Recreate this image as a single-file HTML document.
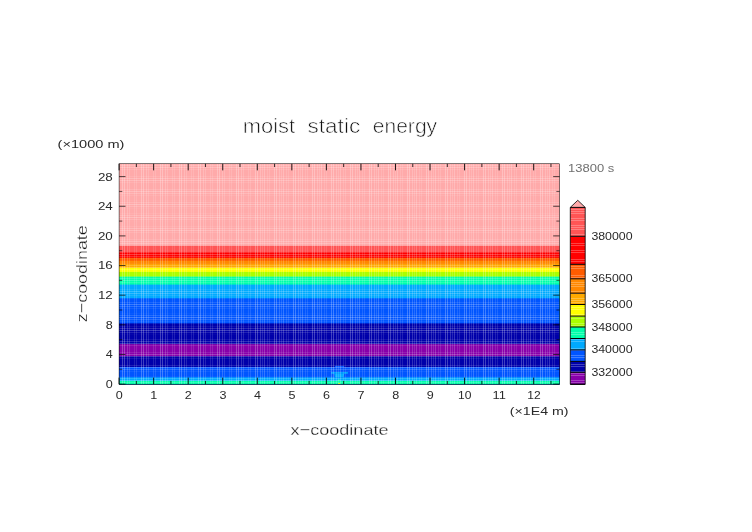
<!DOCTYPE html>
<html><head><meta charset="utf-8"><title>moist static energy</title>
<style>
html,body{margin:0;padding:0;background:#fff;}
body{width:752px;height:532px;overflow:hidden;}
svg{display:block;}
text{font-family:"Liberation Sans",sans-serif;}
</style></head><body>
<svg width="752" height="532" viewBox="0 0 752 532">
<rect width="752" height="532" fill="#fff"/>

<g><rect x="119.09" y="163.752" width="440.512" height="220.447" fill="#ffaaaa"/><rect x="119.09" y="245.8" width="440.512" height="138.4" fill="#ff5555"/><rect x="119.09" y="252.2" width="440.512" height="132" fill="#ff0000"/><rect x="119.09" y="257.8" width="440.512" height="126.4" fill="#ff5c00"/><rect x="119.09" y="260.8" width="440.512" height="123.4" fill="#ff8800"/><rect x="119.09" y="264.2" width="440.512" height="120" fill="#ffaa00"/><rect x="119.09" y="267.8" width="440.512" height="116.4" fill="#ffff00"/><rect x="119.09" y="271.9" width="440.512" height="112.3" fill="#aaff00"/><rect x="119.09" y="276.6" width="440.512" height="107.6" fill="#00ffaa"/><rect x="119.09" y="284.6" width="440.512" height="99.6" fill="#00aaff"/><rect x="119.09" y="298.3" width="440.512" height="85.9" fill="#0055ff"/><rect x="119.09" y="323.4" width="440.512" height="60.8" fill="#0000aa"/><rect x="119.09" y="344.1" width="440.512" height="40.1" fill="#8800aa"/><rect x="119.09" y="356.2" width="440.512" height="28" fill="#0000aa"/><rect x="119.09" y="367" width="440.512" height="17.2" fill="#0055ff"/><rect x="119.09" y="377.3" width="440.512" height="6.9" fill="#00aaff"/><rect x="119.09" y="380.9" width="440.512" height="3.3" fill="#00ffaa"/><rect x="334.9" y="365.9" width="9.3" height="1.2" fill="#0055ff"/><rect x="331.2" y="372.1" width="16.7" height="1.6" fill="#00aaff"/><polygon points="334.3,373.7 344.2,373.7 343.6,377.3 334.9,377.3" fill="#00aaff"/><polygon points="336.8,381.2 339,379.1 341.3,381.2" fill="#00ffaa"/><rect x="338.2" y="383.1" width="1.9" height="0.9" fill="#ffff00"/><g stroke="#fff" stroke-width="1" fill="none"><path stroke-opacity="0.12" d="M134.5 163.752V384.2M136.5 163.752V384.2M153.5 163.752V384.2M155.5 163.752V384.2M172.5 163.752V384.2M174.5 163.752V384.2M191.5 163.752V384.2M193.5 163.752V384.2M210.5 163.752V384.2M212.5 163.752V384.2M229.5 163.752V384.2M231.5 163.752V384.2M248.5 163.752V384.2M250.5 163.752V384.2M267.5 163.752V384.2M269.5 163.752V384.2M286.5 163.752V384.2M288.5 163.752V384.2M305.5 163.752V384.2M307.5 163.752V384.2M324.5 163.752V384.2M326.5 163.752V384.2M343.5 163.752V384.2M345.5 163.752V384.2M362.5 163.752V384.2M364.5 163.752V384.2M381.5 163.752V384.2M383.5 163.752V384.2M400.5 163.752V384.2M402.5 163.752V384.2M419.5 163.752V384.2M421.5 163.752V384.2M438.5 163.752V384.2M440.5 163.752V384.2M457.5 163.752V384.2M459.5 163.752V384.2M476.5 163.752V384.2M478.5 163.752V384.2M495.5 163.752V384.2M497.5 163.752V384.2M514.5 163.752V384.2M516.5 163.752V384.2M533.5 163.752V384.2M535.5 163.752V384.2M552.5 163.752V384.2M554.5 163.752V384.2"/><path stroke-opacity="0.14" d="M129.5 163.752V384.2M148.5 163.752V384.2M167.5 163.752V384.2M186.5 163.752V384.2M205.5 163.752V384.2M224.5 163.752V384.2M243.5 163.752V384.2M262.5 163.752V384.2M281.5 163.752V384.2M300.5 163.752V384.2M319.5 163.752V384.2M338.5 163.752V384.2M357.5 163.752V384.2M376.5 163.752V384.2M395.5 163.752V384.2M414.5 163.752V384.2M433.5 163.752V384.2M452.5 163.752V384.2M471.5 163.752V384.2M490.5 163.752V384.2M509.5 163.752V384.2M528.5 163.752V384.2M547.5 163.752V384.2"/><path stroke-opacity="0.18" d="M127.5 163.752V384.2M146.5 163.752V384.2M165.5 163.752V384.2M184.5 163.752V384.2M203.5 163.752V384.2M222.5 163.752V384.2M241.5 163.752V384.2M260.5 163.752V384.2M279.5 163.752V384.2M298.5 163.752V384.2M317.5 163.752V384.2M336.5 163.752V384.2M355.5 163.752V384.2M374.5 163.752V384.2M393.5 163.752V384.2M412.5 163.752V384.2M431.5 163.752V384.2M450.5 163.752V384.2M469.5 163.752V384.2M488.5 163.752V384.2M507.5 163.752V384.2M526.5 163.752V384.2M545.5 163.752V384.2"/><path stroke-opacity="0.2" d="M264.5 163.752V384.2M283.5 163.752V384.2M302.5 163.752V384.2M321.5 163.752V384.2M340.5 163.752V384.2M359.5 163.752V384.2M378.5 163.752V384.2M397.5 163.752V384.2M416.5 163.752V384.2M435.5 163.752V384.2M454.5 163.752V384.2M473.5 163.752V384.2M492.5 163.752V384.2M511.5 163.752V384.2M530.5 163.752V384.2M549.5 163.752V384.2"/><path stroke-opacity="0.25" d="M122.5 163.752V384.2M124.5 163.752V384.2M141.5 163.752V384.2M143.5 163.752V384.2M160.5 163.752V384.2M162.5 163.752V384.2M179.5 163.752V384.2M181.5 163.752V384.2M198.5 163.752V384.2M200.5 163.752V384.2M217.5 163.752V384.2M219.5 163.752V384.2M236.5 163.752V384.2M238.5 163.752V384.2M255.5 163.752V384.2M257.5 163.752V384.2M274.5 163.752V384.2M276.5 163.752V384.2M293.5 163.752V384.2M295.5 163.752V384.2M312.5 163.752V384.2M314.5 163.752V384.2M331.5 163.752V384.2M333.5 163.752V384.2M350.5 163.752V384.2M352.5 163.752V384.2M369.5 163.752V384.2M371.5 163.752V384.2M388.5 163.752V384.2M390.5 163.752V384.2M407.5 163.752V384.2M409.5 163.752V384.2M426.5 163.752V384.2M428.5 163.752V384.2M445.5 163.752V384.2M447.5 163.752V384.2M464.5 163.752V384.2M466.5 163.752V384.2M483.5 163.752V384.2M485.5 163.752V384.2M502.5 163.752V384.2M504.5 163.752V384.2M521.5 163.752V384.2M523.5 163.752V384.2M540.5 163.752V384.2M542.5 163.752V384.2"/><path stroke-opacity=".14" d="M119.09 382.5H559.602"/><path stroke-opacity=".25" d="M119.09 380.5H559.602"/><path stroke-opacity=".15" d="M119.09 378.5H559.602"/><path stroke-opacity=".04" d="M119.09 376.5H559.602"/><path stroke-opacity=".06" d="M119.09 371.5H559.602"/><path stroke-opacity=".16" d="M119.09 369.5H559.602"/><path stroke-opacity=".23" d="M119.09 367.5H559.602"/><path stroke-opacity=".12" d="M119.09 365.5H559.602"/><path stroke-opacity=".08" d="M119.09 358.5H559.602"/><path stroke-opacity=".19" d="M119.09 356.5H559.602"/><path stroke-opacity=".21" d="M119.09 354.5H559.602"/><path stroke-opacity=".10" d="M119.09 352.5H559.602"/><path stroke-opacity=".11" d="M119.09 345.5H559.602"/><path stroke-opacity=".21" d="M119.09 343.5H559.602"/><path stroke-opacity=".18" d="M119.09 341.5H559.602"/><path stroke-opacity=".08" d="M119.09 339.5H559.602"/><path stroke-opacity=".02" d="M119.09 334.5H559.602"/><path stroke-opacity=".13" d="M119.09 332.5H559.602"/><path stroke-opacity=".23" d="M119.09 330.5H559.602"/><path stroke-opacity=".16" d="M119.09 328.5H559.602"/><path stroke-opacity=".06" d="M119.09 326.5H559.602"/><path stroke-opacity=".05" d="M119.09 321.5H559.602"/><path stroke-opacity=".15" d="M119.09 319.5H559.602"/><path stroke-opacity=".24" d="M119.09 317.5H559.602"/><path stroke-opacity=".14" d="M119.09 315.5H559.602"/><path stroke-opacity=".03" d="M119.09 313.5H559.602"/><path stroke-opacity=".07" d="M119.09 308.5H559.602"/><path stroke-opacity=".17" d="M119.09 306.5H559.602"/><path stroke-opacity=".22" d="M119.09 304.5H559.602"/><path stroke-opacity=".11" d="M119.09 302.5H559.602"/><path stroke-opacity=".09" d="M119.09 295.5H559.602"/><path stroke-opacity=".20" d="M119.09 293.5H559.602"/><path stroke-opacity=".20" d="M119.09 291.5H559.602"/><path stroke-opacity=".09" d="M119.09 289.5H559.602"/><path stroke-opacity=".12" d="M119.09 282.5H559.602"/><path stroke-opacity=".22" d="M119.09 280.5H559.602"/><path stroke-opacity=".17" d="M119.09 278.5H559.602"/><path stroke-opacity=".07" d="M119.09 276.5H559.602"/><path stroke-opacity=".03" d="M119.09 271.5H559.602"/><path stroke-opacity=".14" d="M119.09 269.5H559.602"/><path stroke-opacity=".24" d="M119.09 267.5H559.602"/><path stroke-opacity=".15" d="M119.09 265.5H559.602"/><path stroke-opacity=".04" d="M119.09 263.5H559.602"/><path stroke-opacity=".06" d="M119.09 258.5H559.602"/><path stroke-opacity=".16" d="M119.09 256.5H559.602"/><path stroke-opacity=".23" d="M119.09 254.5H559.602"/><path stroke-opacity=".13" d="M119.09 252.5H559.602"/><path stroke-opacity=".02" d="M119.09 250.5H559.602"/><path stroke-opacity=".08" d="M119.09 245.5H559.602"/><path stroke-opacity=".19" d="M119.09 243.5H559.602"/><path stroke-opacity=".21" d="M119.09 241.5H559.602"/><path stroke-opacity=".10" d="M119.09 239.5H559.602"/><path stroke-opacity=".10" d="M119.09 232.5H559.602"/><path stroke-opacity=".21" d="M119.09 230.5H559.602"/><path stroke-opacity=".19" d="M119.09 228.5H559.602"/><path stroke-opacity=".08" d="M119.09 226.5H559.602"/><path stroke-opacity=".02" d="M119.09 221.5H559.602"/><path stroke-opacity=".13" d="M119.09 219.5H559.602"/><path stroke-opacity=".23" d="M119.09 217.5H559.602"/><path stroke-opacity=".16" d="M119.09 215.5H559.602"/><path stroke-opacity=".06" d="M119.09 213.5H559.602"/><path stroke-opacity=".04" d="M119.09 208.5H559.602"/><path stroke-opacity=".15" d="M119.09 206.5H559.602"/><path stroke-opacity=".24" d="M119.09 204.5H559.602"/><path stroke-opacity=".14" d="M119.09 202.5H559.602"/><path stroke-opacity=".03" d="M119.09 200.5H559.602"/><path stroke-opacity=".07" d="M119.09 195.5H559.602"/><path stroke-opacity=".17" d="M119.09 193.5H559.602"/><path stroke-opacity=".22" d="M119.09 191.5H559.602"/><path stroke-opacity=".12" d="M119.09 189.5H559.602"/><path stroke-opacity=".09" d="M119.09 182.5H559.602"/><path stroke-opacity=".20" d="M119.09 180.5H559.602"/><path stroke-opacity=".20" d="M119.09 178.5H559.602"/><path stroke-opacity=".09" d="M119.09 176.5H559.602"/><path stroke-opacity=".11" d="M119.09 169.5H559.602"/><path stroke-opacity=".22" d="M119.09 167.5H559.602"/><path stroke-opacity=".18" d="M119.09 165.5H559.602"/></g></g>

<rect x="119.09" y="163.752" width="440.512" height="220.447" fill="none" stroke="#000" stroke-width="0.5"/><path d="M119.09 384.2v-6.6M119.09 163.752v6.6M153.64 384.2v-6.6M153.64 163.752v6.6M188.19 384.2v-6.6M188.19 163.752v6.6M222.74 384.2v-6.6M222.74 163.752v6.6M257.29 384.2v-6.6M257.29 163.752v6.6M291.84 384.2v-6.6M291.84 163.752v6.6M326.39 384.2v-6.6M326.39 163.752v6.6M360.94 384.2v-6.6M360.94 163.752v6.6M395.49 384.2v-6.6M395.49 163.752v6.6M430.04 384.2v-6.6M430.04 163.752v6.6M464.59 384.2v-6.6M464.59 163.752v6.6M499.14 384.2v-6.6M499.14 163.752v6.6M533.69 384.2v-6.6M533.69 163.752v6.6" stroke="#000" stroke-width="0.9" fill="none"/><path d="M136.365 384.2v-3.3M136.365 163.752v3.3M170.915 384.2v-3.3M170.915 163.752v3.3M205.465 384.2v-3.3M205.465 163.752v3.3M240.015 384.2v-3.3M240.015 163.752v3.3M274.565 384.2v-3.3M274.565 163.752v3.3M309.115 384.2v-3.3M309.115 163.752v3.3M343.665 384.2v-3.3M343.665 163.752v3.3M378.215 384.2v-3.3M378.215 163.752v3.3M412.765 384.2v-3.3M412.765 163.752v3.3M447.315 384.2v-3.3M447.315 163.752v3.3M481.865 384.2v-3.3M481.865 163.752v3.3M516.415 384.2v-3.3M516.415 163.752v3.3M550.965 384.2v-3.3M550.965 163.752v3.3" stroke="#000" stroke-width="0.8" fill="none"/><path d="M119.09 384.1h6.4M559.602 384.1h-6.4M119.09 354.46h6.4M559.602 354.46h-6.4M119.09 324.82h6.4M559.602 324.82h-6.4M119.09 295.18h6.4M559.602 295.18h-6.4M119.09 265.54h6.4M559.602 265.54h-6.4M119.09 235.9h6.4M559.602 235.9h-6.4M119.09 206.26h6.4M559.602 206.26h-6.4M119.09 176.62h6.4M559.602 176.62h-6.4" stroke="#000" stroke-width="0.7" fill="none"/><path d="M119.09 369.28h3.2M559.602 369.28h-3.2M119.09 339.64h3.2M559.602 339.64h-3.2M119.09 310h3.2M559.602 310h-3.2M119.09 280.36h3.2M559.602 280.36h-3.2M119.09 250.72h3.2M559.602 250.72h-3.2M119.09 221.08h3.2M559.602 221.08h-3.2M119.09 191.44h3.2M559.602 191.44h-3.2" stroke="#000" stroke-width="0.6" fill="none"/>
<rect x="570.3" y="372.3" width="14.9" height="12" fill="#8800aa"/><rect x="570.3" y="361.4" width="14.9" height="10.9" fill="#0000aa"/><rect x="570.3" y="349.9" width="14.9" height="11.5" fill="#0055ff"/><rect x="570.3" y="338.5" width="14.9" height="11.4" fill="#00aaff"/><rect x="570.3" y="327" width="14.9" height="11.5" fill="#00ffaa"/><rect x="570.3" y="316.1" width="14.9" height="10.9" fill="#aaff00"/><rect x="570.3" y="304.5" width="14.9" height="11.6" fill="#ffff00"/><rect x="570.3" y="293.2" width="14.9" height="11.3" fill="#ffaa00"/><rect x="570.3" y="278.8" width="14.9" height="14.4" fill="#ff8800"/><rect x="570.3" y="264.3" width="14.9" height="14.5" fill="#ff5c00"/><rect x="570.3" y="236.3" width="14.9" height="28" fill="#ff0000"/><rect x="570.3" y="207.4" width="14.9" height="28.9" fill="#ff5555"/><path d="M570.3 209.5H585.2M570.3 211.5H585.2M570.3 213.5H585.2M570.3 218.5H585.2M570.3 220.5H585.2M570.3 225.5H585.2M570.3 227.5H585.2M570.3 229.5H585.2M570.3 234.5H585.2M570.3 236.5H585.2M570.3 243.5H585.2M570.3 245.5H585.2M570.3 250.5H585.2M570.3 252.5H585.2M570.3 259.5H585.2M570.3 261.5H585.2M570.3 266.5H585.2M570.3 268.5H585.2M570.3 275.5H585.2M570.3 277.5H585.2M570.3 282.5H585.2M570.3 284.5H585.2M570.3 286.5H585.2M570.3 291.5H585.2M570.3 293.5H585.2M570.3 298.5H585.2M570.3 300.5H585.2M570.3 302.5H585.2M570.3 307.5H585.2M570.3 309.5H585.2M570.3 314.5H585.2M570.3 316.5H585.2M570.3 318.5H585.2M570.3 323.5H585.2M570.3 325.5H585.2M570.3 332.5H585.2M570.3 334.5H585.2M570.3 339.5H585.2M570.3 341.5H585.2M570.3 348.5H585.2M570.3 350.5H585.2M570.3 355.5H585.2M570.3 357.5H585.2M570.3 364.5H585.2M570.3 366.5H585.2M570.3 371.5H585.2M570.3 373.5H585.2M570.3 375.5H585.2M570.3 380.5H585.2M570.3 382.5H585.2" stroke="#fff" stroke-opacity="0.25" stroke-width="1" fill="none"/><polygon points="570.3,207.4 577.75,200.3 585.2,207.4" fill="#ffaaaa"/><path d="M570.3 384.3H585.2M570.3 372.3H585.2M570.3 361.4H585.2M570.3 349.9H585.2M570.3 338.5H585.2M570.3 327H585.2M570.3 316.1H585.2M570.3 304.5H585.2M570.3 293.2H585.2M570.3 278.8H585.2M570.3 264.3H585.2M570.3 236.3H585.2M570.3 207.4H585.2" stroke="#000" stroke-width="1" fill="none"/><path d="M570.3 384.3V207.4L577.75 200.3L585.2 207.4V384.3Z" stroke="#000" stroke-width="0.8" fill="none"/>
<text y="133.1" font-size="19.3" fill="#111" stroke="#fff" stroke-width="0.6" paint-order="fill stroke" lengthAdjust="spacingAndGlyphs"><tspan x="242.7" textLength="52.5" lengthAdjust="spacingAndGlyphs">moist</tspan> <tspan x="307.5" textLength="52.7" lengthAdjust="spacingAndGlyphs">static</tspan> <tspan x="372.8" textLength="64.3" lengthAdjust="spacingAndGlyphs">energy</tspan></text><text x="57.6" y="148" font-size="11.4" textLength="66.8" lengthAdjust="spacingAndGlyphs" fill="#2a2a2a">(×1000 m)</text><text x="568" y="171.6" font-size="11.2" textLength="46.2" lengthAdjust="spacingAndGlyphs" fill="#707070">13800 s</text><text x="105.8" y="388" font-size="11.5" textLength="7" lengthAdjust="spacingAndGlyphs" fill="#2a2a2a">0</text><text x="105.8" y="358.36" font-size="11.5" textLength="7" lengthAdjust="spacingAndGlyphs" fill="#2a2a2a">4</text><text x="105.8" y="328.72" font-size="11.5" textLength="7" lengthAdjust="spacingAndGlyphs" fill="#2a2a2a">8</text><text x="97.9" y="299.08" font-size="11.5" textLength="14.9" lengthAdjust="spacingAndGlyphs" fill="#2a2a2a">12</text><text x="97.9" y="269.44" font-size="11.5" textLength="14.9" lengthAdjust="spacingAndGlyphs" fill="#2a2a2a">16</text><text x="97.9" y="239.8" font-size="11.5" textLength="14.9" lengthAdjust="spacingAndGlyphs" fill="#2a2a2a">20</text><text x="97.9" y="210.16" font-size="11.5" textLength="14.9" lengthAdjust="spacingAndGlyphs" fill="#2a2a2a">24</text><text x="97.9" y="180.52" font-size="11.5" textLength="14.9" lengthAdjust="spacingAndGlyphs" fill="#2a2a2a">28</text><text x="115.79" y="398.6" font-size="11.5" textLength="7" lengthAdjust="spacingAndGlyphs" fill="#2a2a2a">0</text><text x="150.34" y="398.6" font-size="11.5" textLength="7" lengthAdjust="spacingAndGlyphs" fill="#2a2a2a">1</text><text x="184.89" y="398.6" font-size="11.5" textLength="7" lengthAdjust="spacingAndGlyphs" fill="#2a2a2a">2</text><text x="219.44" y="398.6" font-size="11.5" textLength="7" lengthAdjust="spacingAndGlyphs" fill="#2a2a2a">3</text><text x="253.99" y="398.6" font-size="11.5" textLength="7" lengthAdjust="spacingAndGlyphs" fill="#2a2a2a">4</text><text x="288.54" y="398.6" font-size="11.5" textLength="7" lengthAdjust="spacingAndGlyphs" fill="#2a2a2a">5</text><text x="323.09" y="398.6" font-size="11.5" textLength="7" lengthAdjust="spacingAndGlyphs" fill="#2a2a2a">6</text><text x="357.64" y="398.6" font-size="11.5" textLength="7" lengthAdjust="spacingAndGlyphs" fill="#2a2a2a">7</text><text x="392.19" y="398.6" font-size="11.5" textLength="7" lengthAdjust="spacingAndGlyphs" fill="#2a2a2a">8</text><text x="426.74" y="398.6" font-size="11.5" textLength="7" lengthAdjust="spacingAndGlyphs" fill="#2a2a2a">9</text><text x="458.09" y="398.6" font-size="11.5" textLength="13.4" lengthAdjust="spacingAndGlyphs" fill="#2a2a2a">10</text><text x="492.64" y="398.6" font-size="11.5" textLength="13.4" lengthAdjust="spacingAndGlyphs" fill="#2a2a2a">11</text><text x="527.19" y="398.6" font-size="11.5" textLength="13.4" lengthAdjust="spacingAndGlyphs" fill="#2a2a2a">12</text><text x="509.8" y="414.7" font-size="11.4" textLength="58.7" lengthAdjust="spacingAndGlyphs" fill="#2a2a2a">(×1E4 m)</text><text x="290.6" y="435.1" font-size="15.5" textLength="97.9" lengthAdjust="spacingAndGlyphs" fill="#111" stroke="#fff" stroke-width="0.3" paint-order="fill stroke">x−coodinate</text><text transform="translate(87,322.2) rotate(-90)" font-size="15.5" textLength="97" lengthAdjust="spacingAndGlyphs" fill="#111" stroke="#fff" stroke-width="0.3" paint-order="fill stroke">z−coodinate</text><text x="591.4" y="239.8" font-size="10.3" textLength="41.2" lengthAdjust="spacingAndGlyphs" fill="#2a2a2a">380000</text><text x="591.4" y="282.2" font-size="10.3" textLength="41.2" lengthAdjust="spacingAndGlyphs" fill="#2a2a2a">365000</text><text x="591.4" y="307.5" font-size="10.3" textLength="41.2" lengthAdjust="spacingAndGlyphs" fill="#2a2a2a">356000</text><text x="591.4" y="331" font-size="10.3" textLength="41.2" lengthAdjust="spacingAndGlyphs" fill="#2a2a2a">348000</text><text x="591.4" y="352.9" font-size="10.3" textLength="41.2" lengthAdjust="spacingAndGlyphs" fill="#2a2a2a">340000</text><text x="591.4" y="376.1" font-size="10.3" textLength="41.2" lengthAdjust="spacingAndGlyphs" fill="#2a2a2a">332000</text>
</svg>
</body></html>
